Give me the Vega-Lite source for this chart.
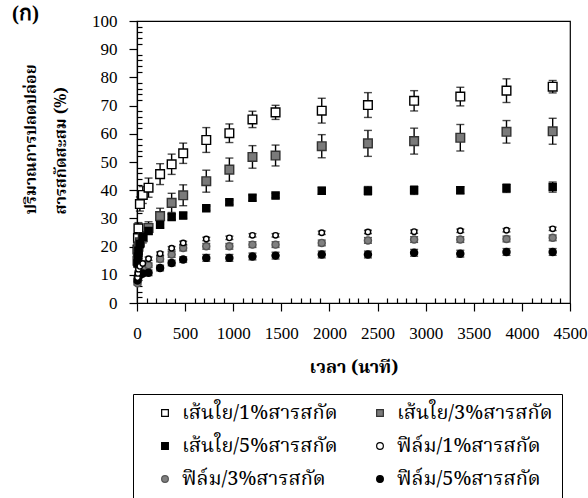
{
  "$schema": "https://vega.github.io/schema/vega-lite/v6.json",
  "width": 433,
  "height": 282,
  "autosize": {"type": "none"},
  "padding": {"left": 137, "top": 21, "right": 18, "bottom": 195},
  "background": "white",
  "title": {
    "text": "(ก)",
    "anchor": "start",
    "frame": "group",
    "font": "Liberation Serif",
    "fontSize": 21,
    "fontWeight": "bold",
    "color": "black",
    "baseline": "top",
    "dx": -125,
    "dy": 16
  },
  "config": {
    "view": {"stroke": "black", "strokeWidth": 1.2},
    "axis": {
      "domainColor": "black",
      "domainWidth": 1.2,
      "tickColor": "black",
      "tickWidth": 1.2,
      "labelColor": "black",
      "labelFont": "Liberation Serif",
      "labelFontSize": 17,
      "titleColor": "black",
      "titleFont": "Noto Serif Thai, Norasi, Liberation Serif, serif",
      "titleFontSize": 18,
      "titleFontWeight": "bold",
      "grid": false,
      "labelOverlap": false,
      "labelFlush": false
    },
    "legend": {
      "title": null,
      "orient": "none",
      "legendX": -4,
      "legendY": 373,
      "columns": 2,
      "direction": "horizontal",
      "strokeColor": "black",
      "fillColor": "white",
      "padding": 9,
      "symbolOffset": 13,
      "columnPadding": 19,
      "rowPadding": 13,
      "symbolSize": 45,
      "symbolStrokeWidth": 1.2,
      "labelOffset": 7,
      "labelFont": "Noto Serif Thai, Norasi, Liberation Serif, serif",
      "labelFontSize": 20,
      "labelColor": "black",
      "labelLimit": 300
    }
  },
  "datasets": {
    "release": [
      {"s": "เส้นใย/1%สารสกัด", "t": 5, "v": 19, "e": 1.5},
      {"s": "เส้นใย/1%สารสกัด", "t": 10, "v": 23, "e": 1.5},
      {"s": "เส้นใย/1%สารสกัด", "t": 15, "v": 26.5, "e": 2},
      {"s": "เส้นใย/1%สารสกัด", "t": 30, "v": 35.1, "e": 2.5},
      {"s": "เส้นใย/1%สารสกัด", "t": 60, "v": 38.3, "e": 3},
      {"s": "เส้นใย/1%สารสกัด", "t": 120, "v": 40.9, "e": 3.4},
      {"s": "เส้นใย/1%สารสกัด", "t": 240, "v": 45.7, "e": 3.7},
      {"s": "เส้นใย/1%สารสกัด", "t": 360, "v": 49.2, "e": 3.6},
      {"s": "เส้นใย/1%สารสกัด", "t": 480, "v": 53.1, "e": 3.6},
      {"s": "เส้นใย/1%สารสกัด", "t": 720, "v": 57.8, "e": 4.4},
      {"s": "เส้นใย/1%สารสกัด", "t": 960, "v": 60.2, "e": 3.3},
      {"s": "เส้นใย/1%สารสกัด", "t": 1200, "v": 65.1, "e": 2.9},
      {"s": "เส้นใย/1%สารสกัด", "t": 1440, "v": 67.6, "e": 2.5},
      {"s": "เส้นใย/1%สารสกัด", "t": 1920, "v": 68.2, "e": 4.4},
      {"s": "เส้นใย/1%สารสกัด", "t": 2400, "v": 70.2, "e": 4.4},
      {"s": "เส้นใย/1%สารสกัด", "t": 2880, "v": 71.7, "e": 3.6},
      {"s": "เส้นใย/1%สารสกัด", "t": 3360, "v": 73.2, "e": 3.3},
      {"s": "เส้นใย/1%สารสกัด", "t": 3840, "v": 75.3, "e": 4.2},
      {"s": "เส้นใย/1%สารสกัด", "t": 4320, "v": 76.7, "e": 2.2},
      {"s": "เส้นใย/3%สารสกัด", "t": 5, "v": 15, "e": 1},
      {"s": "เส้นใย/3%สารสกัด", "t": 10, "v": 18, "e": 1.5},
      {"s": "เส้นใย/3%สารสกัด", "t": 15, "v": 20, "e": 1.5},
      {"s": "เส้นใย/3%สารสกัด", "t": 30, "v": 21.5, "e": 2},
      {"s": "เส้นใย/3%สารสกัด", "t": 60, "v": 23.3, "e": 2},
      {"s": "เส้นใย/3%สารสกัด", "t": 120, "v": 26.6, "e": 2.2},
      {"s": "เส้นใย/3%สารสกัด", "t": 240, "v": 30.8, "e": 2.8},
      {"s": "เส้นใย/3%สารสกัด", "t": 360, "v": 35.5, "e": 3.4},
      {"s": "เส้นใย/3%สารสกัด", "t": 480, "v": 38.2, "e": 3.7},
      {"s": "เส้นใย/3%สารสกัด", "t": 720, "v": 43.2, "e": 3.9},
      {"s": "เส้นใย/3%สารสกัด", "t": 960, "v": 47.3, "e": 4.1},
      {"s": "เส้นใย/3%สารสกัด", "t": 1200, "v": 51.8, "e": 4},
      {"s": "เส้นใย/3%สารสกัด", "t": 1440, "v": 52.3, "e": 3.7},
      {"s": "เส้นใย/3%สารสกัด", "t": 1920, "v": 55.6, "e": 4.1},
      {"s": "เส้นใย/3%สารสกัด", "t": 2400, "v": 56.6, "e": 4.6},
      {"s": "เส้นใย/3%สารสกัด", "t": 2880, "v": 57.4, "e": 4.6},
      {"s": "เส้นใย/3%สารสกัด", "t": 3360, "v": 58.6, "e": 4.7},
      {"s": "เส้นใย/3%สารสกัด", "t": 3840, "v": 60.7, "e": 4},
      {"s": "เส้นใย/3%สารสกัด", "t": 4320, "v": 60.9, "e": 4.6},
      {"s": "เส้นใย/5%สารสกัด", "t": 5, "v": 14, "e": 0.8},
      {"s": "เส้นใย/5%สารสกัด", "t": 10, "v": 16.5, "e": 0.8},
      {"s": "เส้นใย/5%สารสกัด", "t": 15, "v": 18.5, "e": 1},
      {"s": "เส้นใย/5%สารสกัด", "t": 30, "v": 21, "e": 1},
      {"s": "เส้นใย/5%สารสกัด", "t": 60, "v": 23.5, "e": 1},
      {"s": "เส้นใย/5%สารสกัด", "t": 120, "v": 25.5, "e": 1},
      {"s": "เส้นใย/5%สารสกัด", "t": 240, "v": 27.7, "e": 1},
      {"s": "เส้นใย/5%สารสกัด", "t": 360, "v": 30.5, "e": 1},
      {"s": "เส้นใย/5%สารสกัด", "t": 480, "v": 31.0, "e": 1},
      {"s": "เส้นใย/5%สารสกัด", "t": 720, "v": 33.6, "e": 0.8},
      {"s": "เส้นใย/5%สารสกัด", "t": 960, "v": 35.7, "e": 0.8},
      {"s": "เส้นใย/5%สารสกัด", "t": 1200, "v": 37.3, "e": 1},
      {"s": "เส้นใย/5%สารสกัด", "t": 1440, "v": 38.1, "e": 0.8},
      {"s": "เส้นใย/5%สารสกัด", "t": 1920, "v": 39.8, "e": 1.2},
      {"s": "เส้นใย/5%สารสกัด", "t": 2400, "v": 39.8, "e": 1.5},
      {"s": "เส้นใย/5%สารสกัด", "t": 2880, "v": 40.0, "e": 1.5},
      {"s": "เส้นใย/5%สารสกัด", "t": 3360, "v": 40.0, "e": 1.2},
      {"s": "เส้นใย/5%สารสกัด", "t": 3840, "v": 40.7, "e": 1.5},
      {"s": "เส้นใย/5%สารสกัด", "t": 4320, "v": 41.1, "e": 1.8},
      {"s": "ฟิล์ม/1%สารสกัด", "t": 5, "v": 9, "e": 0.5},
      {"s": "ฟิล์ม/1%สารสกัด", "t": 10, "v": 10.5, "e": 0.5},
      {"s": "ฟิล์ม/1%สารสกัด", "t": 15, "v": 12, "e": 0.5},
      {"s": "ฟิล์ม/1%สารสกัด", "t": 30, "v": 13, "e": 0.6},
      {"s": "ฟิล์ม/1%สารสกัด", "t": 60, "v": 14, "e": 0.6},
      {"s": "ฟิล์ม/1%สารสกัด", "t": 120, "v": 15.7, "e": 0.6},
      {"s": "ฟิล์ม/1%สารสกัด", "t": 240, "v": 17.5, "e": 0.6},
      {"s": "ฟิล์ม/1%สารสกัด", "t": 360, "v": 19.4, "e": 0.6},
      {"s": "ฟิล์ม/1%สารสกัด", "t": 480, "v": 21.3, "e": 0.6},
      {"s": "ฟิล์ม/1%สารสกัด", "t": 720, "v": 22.7, "e": 0.6},
      {"s": "ฟิล์ม/1%สารสกัด", "t": 960, "v": 23.1, "e": 0.6},
      {"s": "ฟิล์ม/1%สารสกัด", "t": 1200, "v": 24.0, "e": 0.6},
      {"s": "ฟิล์ม/1%สารสกัด", "t": 1440, "v": 24.0, "e": 0.6},
      {"s": "ฟิล์ม/1%สารสกัด", "t": 1920, "v": 24.9, "e": 0.6},
      {"s": "ฟิล์ม/1%สารสกัด", "t": 2400, "v": 25.2, "e": 0.6},
      {"s": "ฟิล์ม/1%สารสกัด", "t": 2880, "v": 25.3, "e": 0.6},
      {"s": "ฟิล์ม/1%สารสกัด", "t": 3360, "v": 25.6, "e": 0.6},
      {"s": "ฟิล์ม/1%สารสกัด", "t": 3840, "v": 25.8, "e": 0.6},
      {"s": "ฟิล์ม/1%สารสกัด", "t": 4320, "v": 26.3, "e": 0.6},
      {"s": "ฟิล์ม/3%สารสกัด", "t": 5, "v": 7, "e": 0.6},
      {"s": "ฟิล์ม/3%สารสกัด", "t": 10, "v": 8.5, "e": 0.6},
      {"s": "ฟิล์ม/3%สารสกัด", "t": 15, "v": 10, "e": 0.8},
      {"s": "ฟิล์ม/3%สารสกัด", "t": 30, "v": 11, "e": 0.8},
      {"s": "ฟิล์ม/3%สารสกัด", "t": 60, "v": 12.5, "e": 0.8},
      {"s": "ฟิล์ม/3%สารสกัด", "t": 120, "v": 13.4, "e": 0.8},
      {"s": "ฟิล์ม/3%สารสกัด", "t": 240, "v": 15.6, "e": 1},
      {"s": "ฟิล์ม/3%สารสกัด", "t": 360, "v": 17.2, "e": 1},
      {"s": "ฟิล์ม/3%สารสกัด", "t": 480, "v": 19.5, "e": 1},
      {"s": "ฟิล์ม/3%สารสกัด", "t": 720, "v": 20.1, "e": 1},
      {"s": "ฟิล์ม/3%สารสกัด", "t": 960, "v": 20.1, "e": 1},
      {"s": "ฟิล์ม/3%สารสกัด", "t": 1200, "v": 20.7, "e": 1},
      {"s": "ฟิล์ม/3%สารสกัด", "t": 1440, "v": 20.7, "e": 1},
      {"s": "ฟิล์ม/3%สารสกัด", "t": 1920, "v": 21.3, "e": 1},
      {"s": "ฟิล์ม/3%สารสกัด", "t": 2400, "v": 22.2, "e": 1},
      {"s": "ฟิล์ม/3%สารสกัด", "t": 2880, "v": 22.5, "e": 1},
      {"s": "ฟิล์ม/3%สารสกัด", "t": 3360, "v": 22.5, "e": 1},
      {"s": "ฟิล์ม/3%สารสกัด", "t": 3840, "v": 22.7, "e": 1},
      {"s": "ฟิล์ม/3%สารสกัด", "t": 4320, "v": 23.1, "e": 1},
      {"s": "ฟิล์ม/5%สารสกัด", "t": 5, "v": 8, "e": 0.8},
      {"s": "ฟิล์ม/5%สารสกัด", "t": 10, "v": 9, "e": 0.8},
      {"s": "ฟิล์ม/5%สารสกัด", "t": 15, "v": 9.5, "e": 0.8},
      {"s": "ฟิล์ม/5%สารสกัด", "t": 30, "v": 10, "e": 0.8},
      {"s": "ฟิล์ม/5%สารสกัด", "t": 60, "v": 10.5, "e": 0.8},
      {"s": "ฟิล์ม/5%สารสกัด", "t": 120, "v": 10.7, "e": 1},
      {"s": "ฟิล์ม/5%สารสกัด", "t": 240, "v": 12.4, "e": 1},
      {"s": "ฟิล์ม/5%สารสกัด", "t": 360, "v": 14.2, "e": 1},
      {"s": "ฟิล์ม/5%สารสกัด", "t": 480, "v": 15.4, "e": 1},
      {"s": "ฟิล์ม/5%สารสกัด", "t": 720, "v": 16.0, "e": 1.2},
      {"s": "ฟิล์ม/5%สารสกัด", "t": 960, "v": 16.0, "e": 1.2},
      {"s": "ฟิล์ม/5%สารสกัด", "t": 1200, "v": 16.5, "e": 1.2},
      {"s": "ฟิล์ม/5%สารสกัด", "t": 1440, "v": 16.8, "e": 1.2},
      {"s": "ฟิล์ม/5%สารสกัด", "t": 1920, "v": 17.2, "e": 1.2},
      {"s": "ฟิล์ม/5%สารสกัด", "t": 2400, "v": 17.2, "e": 1.2},
      {"s": "ฟิล์ม/5%สารสกัด", "t": 2880, "v": 17.8, "e": 1.2},
      {"s": "ฟิล์ม/5%สารสกัด", "t": 3360, "v": 17.5, "e": 1.2},
      {"s": "ฟิล์ม/5%สารสกัด", "t": 3840, "v": 18.1, "e": 1.2},
      {"s": "ฟิล์ม/5%สารสกัด", "t": 4320, "v": 18.1, "e": 1.2}
    ]
  },
  "data": {"name": "release"},
  "encoding": {
    "x": {
      "field": "t",
      "type": "quantitative",
      "scale": {"domain": [0, 4500], "nice": false},
      "axis": {
        "title": "เวลา (นาที)",
        "values": [0,100,200,300,400,500,600,700,800,900,1000,1100,1200,1300,1400,1500,1600,1700,1800,1900,2000,2100,2200,2300,2400,2500,2600,2700,2800,2900,3000,3100,3200,3300,3400,3500,3600,3700,3800,3900,4000,4100,4200,4300,4400,4500],
        "labelExpr": "datum.value % 500 === 0 ? datum.label : ''",
        "format": "d",
        "tickSize": {"condition": {"test": "datum.value % 500 === 0", "value": 8}, "value": -5},
        "labelPadding": 14,
        "titleY": 64,
        "titleBaseline": "middle"
      }
    },
    "y": {
      "field": "v",
      "type": "quantitative",
      "scale": {"domain": [0, 100], "nice": false},
      "axis": {
        "title": ["ปริมาณการปลดปล่อย", "สารสกัดสะสม (%)"],
        "values": [0,2,4,6,8,10,12,14,16,18,20,22,24,26,28,30,32,34,36,38,40,42,44,46,48,50,52,54,56,58,60,62,64,66,68,70,72,74,76,78,80,82,84,86,88,90,92,94,96,98,100],
        "labelExpr": "datum.value % 10 === 0 ? datum.label : ''",
        "tickSize": {"condition": {"test": "datum.value % 10 === 0", "value": 8}, "value": -5},
        "labelPadding": 12,
        "titleAlign": "left",
        "titleBaseline": "top",
        "titleAngle": -90,
        "titleFontSize": 16,
        "titleX": -115,
        "titleY": 193,
        "titleLineHeight": 30
      }
    },
    "shape": {
      "field": "s", "type": "nominal",
      "scale": {
        "domain": ["เส้นใย/1%สารสกัด", "เส้นใย/3%สารสกัด", "เส้นใย/5%สารสกัด", "ฟิล์ม/1%สารสกัด", "ฟิล์ม/3%สารสกัด", "ฟิล์ม/5%สารสกัด"],
        "range": ["square", "square", "square", "circle", "circle", "circle"]
      }
    },
    "fill": {
      "field": "s", "type": "nominal",
      "scale": {
        "domain": ["เส้นใย/1%สารสกัด", "เส้นใย/3%สารสกัด", "เส้นใย/5%สารสกัด", "ฟิล์ม/1%สารสกัด", "ฟิล์ม/3%สารสกัด", "ฟิล์ม/5%สารสกัด"],
        "range": ["white", "#7a7a7a", "black", "white", "#808080", "black"]
      }
    },
    "stroke": {
      "field": "s", "type": "nominal",
      "scale": {
        "domain": ["เส้นใย/1%สารสกัด", "เส้นใย/3%สารสกัด", "เส้นใย/5%สารสกัด", "ฟิล์ม/1%สารสกัด", "ฟิล์ม/3%สารสกัด", "ฟิล์ม/5%สารสกัด"],
        "range": ["black", "#333333", "black", "black", "#555555", "black"]
      }
    }
  },
  "layer": [
    {
      "mark": {"type": "errorbar", "ticks": {"size": 8, "thickness": 1.4}, "thickness": 1.4, "color": "black"},
      "encoding": {
        "yError": {"field": "e"},
        "shape": null,
        "fill": null,
        "stroke": null
      }
    },
    {
      "transform": [{"filter": {"field": "s", "oneOf": ["เส้นใย/1%สารสกัด", "เส้นใย/3%สารสกัด"]}}],
      "mark": {"type": "point", "filled": false, "opacity": 1, "strokeWidth": 1.4, "size": 75}
    },
    {
      "transform": [{"filter": {"field": "s", "oneOf": ["เส้นใย/5%สารสกัด", "ฟิล์ม/3%สารสกัด", "ฟิล์ม/5%สารสกัด"]}}],
      "mark": {"type": "point", "filled": false, "opacity": 1, "strokeWidth": 1.4, "size": 50}
    },
    {
      "transform": [{"filter": {"field": "s", "oneOf": ["ฟิล์ม/1%สารสกัด"]}}],
      "mark": {"type": "point", "filled": false, "opacity": 1, "strokeWidth": 1.4, "size": 30}
    }
  ]
}
